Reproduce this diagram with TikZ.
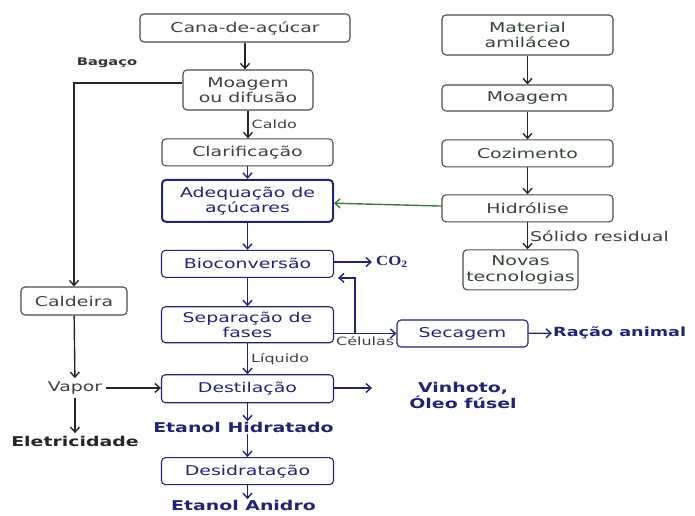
\documentclass[tikz,border=0pt]{standalone}
\usepackage{fontspec}
\setmainfont[FakeStretch=1.4]{DejaVu Sans}
\newfontfamily\coserif[FakeStretch=1.2]{Liberation Serif}
\usetikzlibrary{positioning,arrows.meta}

\definecolor{boxgray}{RGB}{75,75,75}
\definecolor{txtgray}{RGB}{65,65,65}
\definecolor{navy}{RGB}{35,35,115}
\definecolor{leafgreen}{RGB}{60,125,60}
\definecolor{darkleaf}{RGB}{55,70,55}

\newcommand{\boxfont}{\fontsize{13.5}{15.5}\selectfont}
\newcommand{\lblfont}{\fontsize{11.4}{13}\selectfont}

\tikzset{
  stepbox/.style={draw=boxgray, line width=1.1pt, rounded corners=4pt, text=txtgray,
    align=center, font=\boxfont, inner sep=2pt},
  bluebox/.style={stepbox, draw=navy, text=navy},
  greenbox/.style={stepbox, text=darkleaf},
  outtext/.style={font=\boxfont\bfseries, text=navy, align=center, inner sep=1pt},
  lbl/.style={font=\lblfont, text=txtgray, inner sep=1pt},
  flow/.style={->, line width=1.4pt, draw=black!85},
  blueflow/.style={flow, draw=navy}
}

\begin{document}
\begin{tikzpicture}[x=1pt, y=1pt, >={Straight Barb[length=5pt,width=9pt]}]
      \useasboundingbox (0,0) rectangle (695,-515);

      % cana
      \node[stepbox, minimum width=210pt, minimum height=28pt] (cana) at (245,-28) {Cana-de-açúcar};
      \node[stepbox, below of=cana, xshift=3pt, yshift=-33.5pt, minimum width=130pt, minimum height=40pt] (moagem) {Moagem\\ou difusão};
      \node[stepbox, below of=moagem, xshift=-0.5pt, yshift=-34pt, minimum width=171pt, minimum height=27pt] (clarif) {Clarificação};
      \node[bluebox, line width=2pt, below of=clarif, yshift=-20pt, minimum width=171pt, minimum height=42pt] (adeq) {Adequação de\\açúcares};
      \node[bluebox, below of=adeq, yshift=-34.5pt, minimum width=172pt, minimum height=27pt] (bio) {Bioconversão};
      \node[bluebox, below of=bio, yshift=-32.5pt, minimum width=172pt, minimum height=36pt] (sep) {Separação de\\fases};
      \node[bluebox, below of=sep, yshift=-35.5pt, minimum width=172pt, minimum height=28pt] (dest) {Destilação};
      \node[outtext, below of=dest, xshift=-4pt, yshift=-10.5pt] (hidrat) {Etanol Hidratado};
      \node[bluebox, below of=hidrat, xshift=4pt, yshift=-15pt, minimum width=172pt, minimum height=27pt] (desid) {Desidratação};
      \node[outtext, below of=desid, xshift=-4pt, yshift=-6pt] (anidro) {Etanol Anidro};

      % amilaceo
      \node[greenbox, minimum width=171pt, minimum height=40pt] (mat) at (527.5,-35) {Material\\amiláceo};
      \node[greenbox, below of=mat, yshift=-34.5pt, minimum width=171pt, minimum height=26pt] (moag2) {Moagem};
      \node[greenbox, below of=moag2, yshift=-27pt, minimum width=171pt, minimum height=27pt] (coz) {Cozimento};
      \node[greenbox, below of=coz, yshift=-26.5pt, minimum width=171pt, minimum height=27pt] (hidr) {Hidrólise};
      \node[greenbox, below of=hidr, xshift=-7pt, yshift=-33pt, minimum width=115pt, minimum height=40pt] (novas) {Novas\\tecnologias};

      % bagaco
      \node[stepbox, minimum width=106pt, minimum height=28pt] (caldeira) at (74,-301) {Caldeira};
      \node[font=\boxfont, text=txtgray, below of=caldeira, xshift=1pt, yshift=-58.5pt] (vapor) {Vapor};
      \node[font=\boxfont\bfseries, text=black!85, below of=vapor, yshift=-25.5pt] (eletric) {Eletricidade};
      \node[font=\fontsize{10.5}{12}\selectfont\bfseries, text=black!80] (bagaco) at (107,-63) {Bagaço};

      % side products
      \node[bluebox, minimum width=131pt, minimum height=27pt] (secag) at (462.5,-333.5) {Secagem};
      \node[outtext, anchor=west, font=\coserif\fontsize{14}{16}\selectfont\bfseries] (co2) at (375,-262) {CO\textsubscript{2}};
      \node[outtext, anchor=west, font=\fontsize{12.6}{15}\selectfont\bfseries] (racao) at (552,-333) {Ração animal};
      \node[outtext, font=\fontsize{13.5}{16}\selectfont\bfseries] (vinhoto) at (463,-395) {Vinhoto,\\Óleo fúsel};
      \coordinate (split) at (355,-333.5);
      \coordinate (co2end) at (372,-262);
      \coordinate (vinend) at (372,-388);

      \draw[flow] (cana) -- (cana |- moagem.north);
      \draw[flow] (moagem) -- (moagem |- clarif.north) node[lbl, midway, right=2pt] {Caldo};
      \draw[blueflow] (clarif) -- (adeq);
      \draw[blueflow] (adeq) -- (bio);
      \draw[blueflow] (bio) -- (sep);
      \draw[blueflow] (sep) -- (dest) node[lbl, midway, right=2pt] {Líquido};
      \draw[blueflow] (dest) -- (dest |- hidrat.north);
      \draw[blueflow] (hidrat.south -| desid) -- (desid.north);
      \draw[blueflow] (desid) -- (desid |- anidro.north);

      \draw[flow] (mat) -- (moag2);
      \draw[flow] (moag2) -- (coz);
      \draw[flow] (coz) -- (hidr);
      \draw[flow] (hidr) -- (hidr |- novas.north) node[lbl, midway, right=1pt, font=\boxfont] {Sólido residual};
      \draw[flow, draw=leafgreen] (hidr) -- (adeq);

      \draw[flow] ([yshift=7pt]moagem.west) -| (caldeira);
      \draw[flow] (caldeira) -- (vapor);
      \draw[flow] (vapor) -- (eletric);
      \draw[flow] (vapor) -- (vapor -| dest.west);

      \draw[blueflow] (bio.east |- co2end) -- (co2end);
      \draw[blueflow] (sep.east |- split) -- (secag) node[lbl, pos=0.5, below=1pt] {Células};
      \draw[blueflow] (split) |- ([xshift=4pt]bio.south east);
      \draw[blueflow] (secag) -- (racao);
      \draw[blueflow] (dest.east |- vinend) -- (vinend);
    \end{tikzpicture}
\end{document}
